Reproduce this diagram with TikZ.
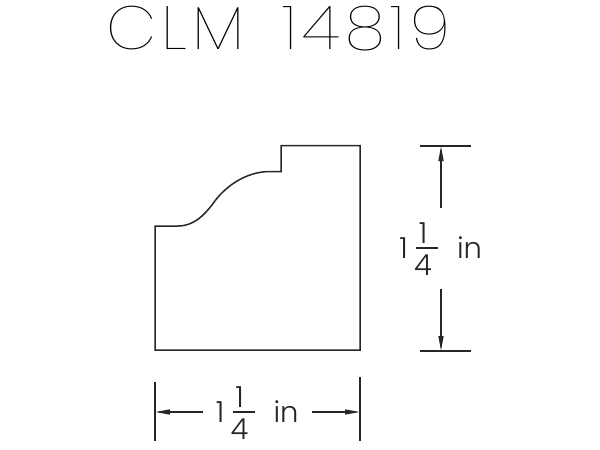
\documentclass[tikz,border=0pt]{standalone}
\usepackage{fontspec}
\setmainfont{Liberation Sans}
\newfontfamily\cadfont{Poppins Light}
\newfontfamily\titlefont[LetterSpace=8]{Poppins Thin}
\usetikzlibrary{arrows.meta}
\tikzset{
  x=1pt,y=-1pt,
  outline/.style={draw=black!85,line width=1.5pt,line join=miter},
  extline/.style={draw=black!85,line width=1.4pt},
  dimline/.style={draw=black!85,line width=1.4pt,-{Stealth[length=15pt,width=5pt,inset=0pt]}},
  dimtext/.style={inner sep=0pt,font=\cadfont\fontsize{29}{29}\selectfont,text=black!85},
  titletext/.style={inner sep=0pt,anchor=center,font=\titlefont\fontsize{61}{61}\selectfont,text=black},
  fraclabel/.pic={
    \node[dimtext] (-whole) at (-23.5,0.5) {1};
    \node[dimtext] (-num) at (-4,-15) {1};
    \node[dimtext] (-den) at (-4,17) {4};
    \coordinate (-barL) at (-11,0);
    \coordinate (-barR) at (11,0);
    \draw[extline] (-barL) -- (-barR);
    \node[dimtext] (-unit) at (42.5,0) {in};
  }
}
\begin{document}
\begin{tikzpicture}
\useasboundingbox (0,0) rectangle (600,450);
\fill[white] (0,0) rectangle (600,450);
\node[titletext,xscale=1.07] (title) at (278.5,29) {CLM\hspace{0.58em}14819};
% profile
\draw[outline] (155,350) -- (155,226) -- (178,226)
  .. controls (194,226) and (204,215) .. (212,205)
  .. controls (224,187) and (245,172) .. (269,171.5)
  -- (281,171.5) -- (281,145.5) -- (360,145.5) -- (360,350) -- cycle;
% horizontal dimension
\coordinate (hL1) at (155,382); \coordinate (hL2) at (155,441);
\coordinate (hR1) at (360,377); \coordinate (hR2) at (360,441);
\draw[extline] (hL1) -- (hL2);
\draw[extline] (hR1) -- (hR2);
\coordinate (hLs) at (203,412); \coordinate (hLe) at (155,412);
\coordinate (hRs) at (312,412); \coordinate (hRe) at (360,412);
\draw[dimline] (hLs) -- (hLe);
\draw[dimline] (hRs) -- (hRe);
\pic (hlabel) at (243.5,412) {fraclabel};
% vertical dimension
\coordinate (vT1) at (420,146); \coordinate (vT2) at (471,146);
\coordinate (vB1) at (420,351); \coordinate (vB2) at (471,351);
\draw[extline] (vT1) -- (vT2);
\draw[extline] (vB1) -- (vB2);
\coordinate (vTs) at (441,208); \coordinate (vTe) at (441,146);
\coordinate (vBs) at (441,289); \coordinate (vBe) at (441,351);
\draw[dimline] (vTs) -- (vTe);
\draw[dimline] (vBs) -- (vBe);
\pic (vlabel) at (427,248) {fraclabel};
\end{tikzpicture}
\end{document}
